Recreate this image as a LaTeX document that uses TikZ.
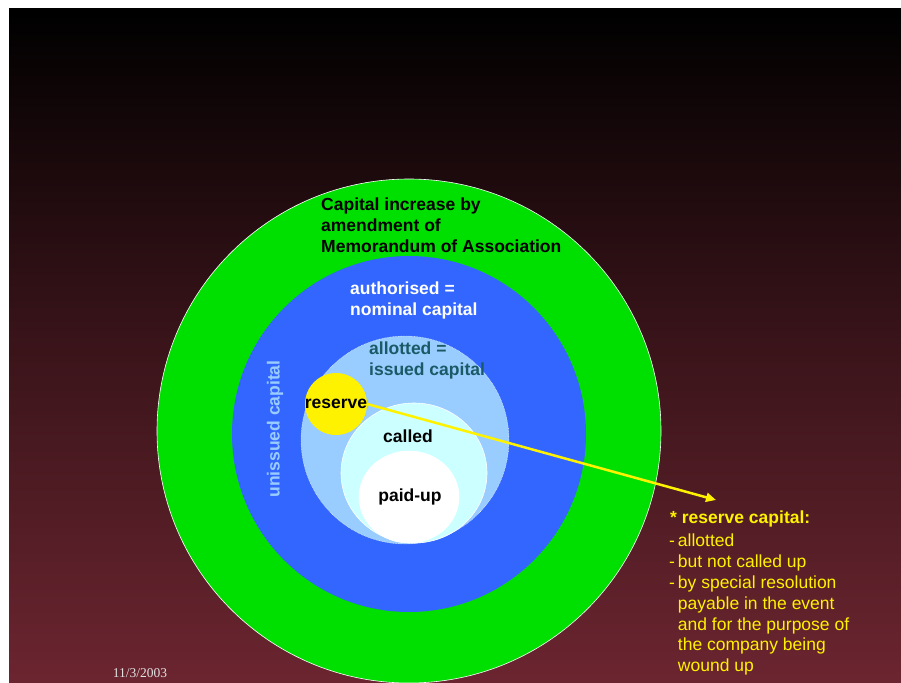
\documentclass[tikz,border=0pt]{standalone}
\usepackage{fontspec}
\setmainfont{Liberation Sans}
\newfontfamily\datefont{Liberation Serif}
\usetikzlibrary{shapes.geometric,arrows.meta}
\definecolor{bgtop}{RGB}{0,0,0}
\definecolor{bgmid}{RGB}{58,20,26}
\definecolor{bgbot}{RGB}{107,37,48}
\definecolor{ringgreen}{RGB}{0,224,0}
\definecolor{ringblue}{RGB}{51,102,255}
\definecolor{ringlight}{RGB}{153,204,255}
\definecolor{ringcyan}{RGB}{204,255,255}
\definecolor{tealtext}{RGB}{26,90,102}
\definecolor{datecol}{RGB}{225,225,225}
\tikzset{
  disc/.style={ellipse,inner sep=0pt,draw=white,line width=0.6pt},
  bigtxt/.style={font=\fontsize{17.5}{21}\selectfont\bfseries,inner sep=0pt,align=left},
  listtxt/.style={font=\fontsize{17.5}{20.8}\selectfont,inner sep=0pt,align=left,text=yellow},
}
\begin{document}
\begin{tikzpicture}[x=1pt,y=-1pt]
\useasboundingbox (0,0) rectangle (901,682);
\fill[white] (0,0) rectangle (901,682);
\shade[top color=bgtop,bottom color=bgbot,middle color=bgmid] (9,9) rectangle (901,682);
\begin{scope}
\clip (9,9) rectangle (901,682);
\node[disc,fill=ringgreen,minimum width=504,minimum height=504] (green) at (409,431) {};
\node[disc,fill=ringblue,draw=none,minimum width=354,minimum height=356] (blue) at (409,434) {};
\node[disc,fill=ringlight,draw=white,densely dotted,line width=0.4pt,minimum width=208,minimum height=208] (allot) at (405,440) {};
\node[disc,fill=ringcyan,minimum width=146,minimum height=140] (called) at (414,473) {};
\node[disc,fill=white,minimum width=100,minimum height=92] (paid) at (409,497) {};
\node[circle,fill=yellow,inner sep=0pt,minimum size=62] (reserve) at (336,404) {};
\end{scope}
\node[bigtxt,anchor=west,text=black] (captxt) at (321,225) {Capital increase by\\amendment of\\Memorandum of Association};
\node[bigtxt,anchor=west,text=white] (authtxt) at (350,300) {authorised =\\nominal capital};
\node[bigtxt,anchor=west,text=tealtext] (allottxt) at (369,360) {allotted =\\issued capital};
\node[bigtxt,text=ringlight,rotate=90] (unissued) at (275,429) {unissued capital};
\node[bigtxt,text=black] (restxt) at (336,404) {reserve};
\node[bigtxt,text=black] (calledtxt) at (408,436) {called};
\node[bigtxt,text=black] (paidtxt) at (410,497) {paid-up};
\coordinate (arrowend) at (716,500);
\draw[yellow,line width=2.5pt,-{Triangle[length=10pt,width=9pt]}] (reserve.east) -- (arrowend);
\node[bigtxt,text=yellow,anchor=west] (reshead) at (670,519) {* reserve capital:};
\node[listtxt,anchor=north west] (reslist) at (669,534) {-\,allotted\\-\,but not called up\\-\,by special resolution\\\phantom{-\,}payable in the event\\\phantom{-\,}and for the purpose of\\\phantom{-\,}the company being\\\phantom{-\,}wound up};
\node[font=\datefont\fontsize{13.5}{15}\selectfont,text=datecol,inner sep=0pt] (date) at (140,673) {11/3/2003};
\end{tikzpicture}
\end{document}
